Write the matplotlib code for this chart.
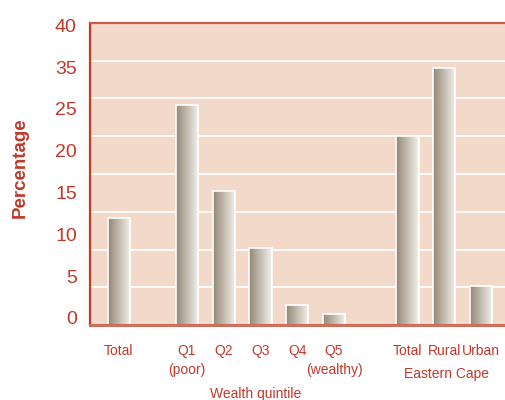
import matplotlib.pyplot as plt
import numpy as np

plt.rcParams['font.family'] = ['Liberation Sans', 'DejaVu Sans']

# data
categories = ['Total', 'Q1\n(poor)', 'Q2', 'Q3', 'Q4', 'Q5\n(wealthy)', 'Total', 'Rural', 'Urban']
values = [14.2, 29.1, 17.7, 10.2, 2.6, 1.5, 25.0, 34.1, 5.2]
# the original axis labels skip 30
ytick_labels = ['0', '5', '10', '15', '20', '25', '35', '40']

RED = '#C0392B'
BG = '#F3D9CA'

# layout: one group on the left, wealth quintiles, then Eastern Cape
xpos = [0, 1.86, 2.86, 3.86, 4.86, 5.86, 7.86, 8.86, 9.86]

fig = plt.figure(figsize=(5.05, 4.0), dpi=100)
ax = fig.add_axes([90/505, 75/400, 1 - 90/505 + 0.01, 302/400])
ax.set_facecolor(BG)

bars = ax.bar(xpos, values, width=0.6, color='none', edgecolor='white', linewidth=1.2, zorder=3)

# left-to-right shading inside each bar
grad = np.linspace(0, 1, 64)
dark = np.array([0.58, 0.53, 0.46])
light = np.array([0.96, 0.95, 0.93])
img = dark[None, :] + (light - dark)[None, :] * grad[:, None]
img = img[None, :, :]
for b in bars:
    x0, y0 = b.get_x(), b.get_y()
    w, h = b.get_width(), b.get_height()
    im = ax.imshow(img, extent=[x0, x0 + w, y0, y0 + h], aspect='auto', zorder=2,
                   interpolation='bilinear')
    im.set_clip_path(b)

ax.set_xlim(-0.78, 10.65)
ax.set_ylim(0, 40)

# gridlines at multiples of 5
ax.set_yticks(np.arange(0, 41, 5), minor=True)
ax.grid(which='minor', axis='y', color='white', linewidth=1.3, zorder=1)
ax.tick_params(axis='y', which='minor', length=0)

# tick labels spread evenly, as in the original
ax.set_yticks(np.linspace(0.93, 39.7, len(ytick_labels)))
ax.set_yticklabels(ytick_labels)
ax.tick_params(axis='y', which='major', length=0, pad=9.5, labelcolor=RED, labelsize=14)

ax.set_xticks(xpos)
ax.set_xticklabels(categories, linespacing=1.45)
ax.tick_params(axis='x', length=0, pad=14, labelcolor=RED, labelsize=10)

ax.spines['right'].set_visible(False)
ax.spines['left'].set_color(RED)
ax.spines['left'].set_linewidth(1.6)
ax.spines['top'].set_color('#CC5A46')
ax.spines['top'].set_linewidth(1.6)
ax.spines['bottom'].set_color('#D06E5C')
ax.spines['bottom'].set_linewidth(2.2)
ax.spines['bottom'].set_zorder(4)

ax.set_ylabel('Percentage', color=RED, fontsize=13.5, fontweight='bold')
ax.yaxis.set_label_coords(-0.146, 0.52)

fig.text(447/505, 1 - 374/400, 'Eastern Cape', color=RED, fontsize=10, ha='center', va='center')
fig.text(256/505, 1 - 394/400, 'Wealth quintile', color=RED, fontsize=10, ha='center', va='center')

fig.savefig('out.png', dpi=100)
